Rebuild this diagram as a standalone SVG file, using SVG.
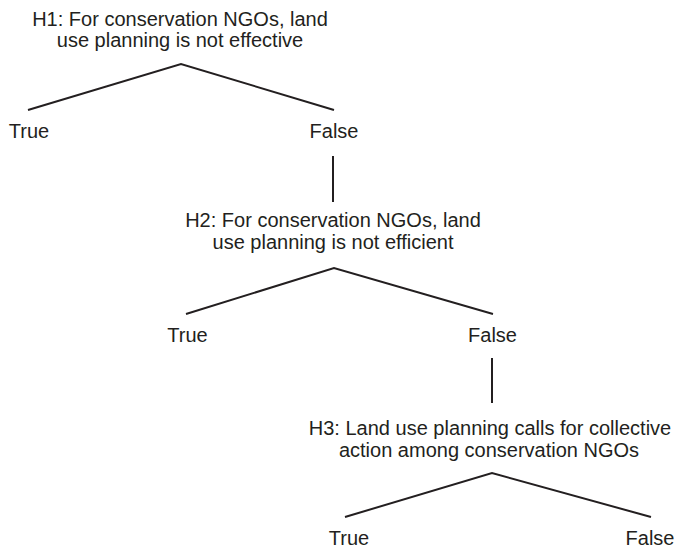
<svg xmlns="http://www.w3.org/2000/svg" width="676" height="549" viewBox="0 0 676 549">
<style>
text{font-family:"Liberation Sans",Arial,sans-serif;font-size:20px;fill:#231f20;text-anchor:middle}
.c line,.c polyline{stroke:#231f20;stroke-width:2;fill:none}
</style>
<rect width="676" height="549" fill="#fff"/>
<g class="c" id="connectors">
<polyline points="28,110 181,64 334,110"/>
<line x1="333" y1="156" x2="333" y2="202"/>
<polyline points="186,314 334,268 493,314"/>
<line x1="492" y1="358" x2="492" y2="403"/>
<polyline points="345,517 492,473 651,517"/>
</g>
<g id="h1"><text x="180" y="26">H1: For conservation NGOs, land</text><text x="180" y="47">use planning is not effective</text></g>
<g id="h1-true"><text x="29" y="138">True</text></g>
<g id="h1-false"><text x="334" y="138">False</text></g>
<g id="h2"><text x="333" y="227">H2: For conservation NGOs, land</text><text x="333" y="249">use planning is not efficient</text></g>
<g id="h2-true"><text x="187.5" y="342">True</text></g>
<g id="h2-false"><text x="492.5" y="342">False</text></g>
<g id="h3"><text x="490" y="435">H3: Land use planning calls for collective</text><text x="489" y="457">action among conservation NGOs</text></g>
<g id="h3-true"><text x="349" y="545">True</text></g>
<g id="h3-false"><text x="650" y="545">False</text></g>
</svg>
